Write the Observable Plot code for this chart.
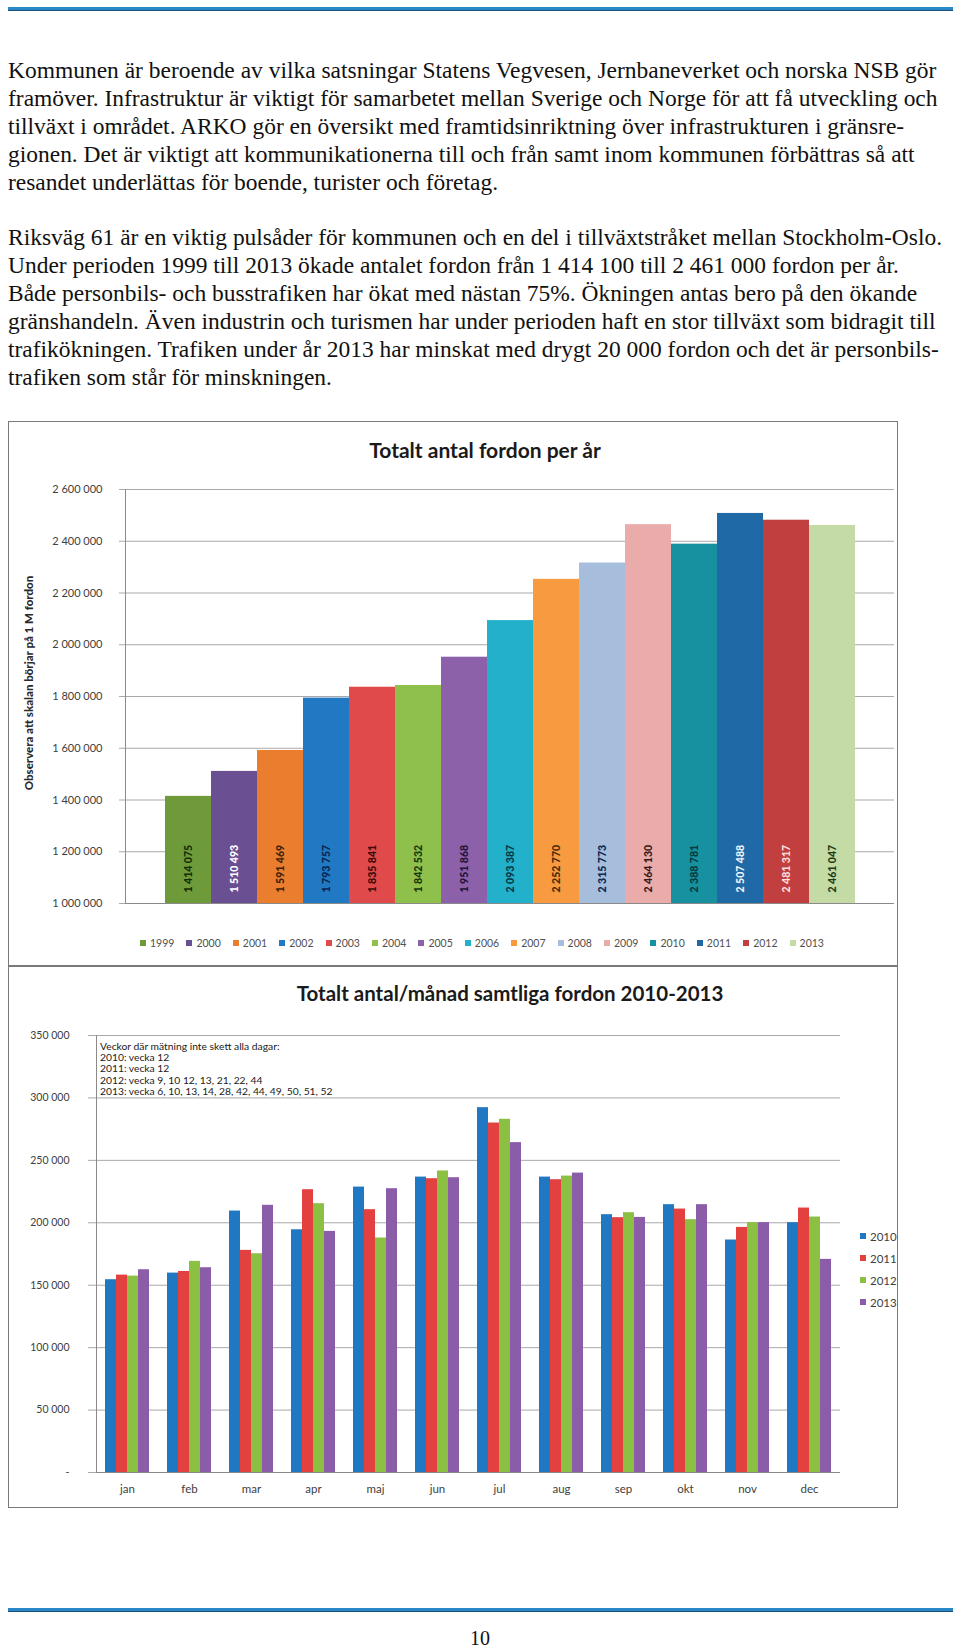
<!DOCTYPE html>
<html><head><meta charset="utf-8">
<script src="https://cdn.jsdelivr.net/npm/d3@7"></script>
<script src="https://cdn.jsdelivr.net/npm/@observablehq/plot@0.6"></script>
<style>
html,body{margin:0;padding:0;background:#fff}
body{width:960px;height:1648px;position:relative;overflow:hidden}
.rule{position:absolute;left:8px;width:945px;height:3px;background:#2a88c8;border-bottom:1px solid #1b4f7c}
#text{position:absolute;left:8px;top:57px;font-family:"Liberation Serif",serif;color:#111;white-space:pre;line-height:27.9px}
.box{position:absolute;left:8px;width:890px;box-sizing:border-box;border:1px solid #7a7a7a;background:#fff}
.plotwrap{position:absolute;left:8px}
.title{position:absolute;font-family:Lato,sans-serif;font-weight:bold;color:#1a1a1a;transform:translate(-50%,-50%);white-space:nowrap}
.leg{position:absolute;font-family:Lato,sans-serif;color:#505050;white-space:nowrap;display:flex;align-items:center}
.sw{display:inline-block;width:6px;height:6px;margin-right:4px}
#note{position:absolute;left:100px;top:1041px;font-family:Lato,sans-serif;font-size:10.3px;line-height:11.2px;color:#1a1a1a;white-space:pre}
#ylab1{position:absolute;left:28px;top:683px;transform:translate(-50%,-50%) rotate(-90deg);font-family:Lato,sans-serif;font-weight:900;font-size:11.5px;color:#2a2a2a;white-space:nowrap}
#pagenum{position:absolute;left:480px;top:1638px;transform:translate(-50%,-50%);font-family:"Liberation Serif",serif;font-size:20px;color:#111}
</style></head>
<body>
<div class="rule" style="top:7px"></div>
<div id="text"></div>
<div class="box" style="top:421px;height:545px"></div>
<div class="box" style="top:966px;height:542px"></div>
<div class="title" id="t1" style="left:485px;top:449px;font-size:21px"></div>
<div class="title" id="t2" style="left:510px;top:993px;font-size:20.5px"></div>
<div id="ylab1"></div>
<div class="plotwrap" id="p1" style="top:421px"></div>
<div class="plotwrap" id="p2" style="top:966px"></div>
<div id="leg1"></div>
<div id="leg2"></div>
<div id="note"></div>
<div class="rule" style="top:1608px"></div>
<div id="pagenum">10</div>
<script>
// ---------- text ----------
const paragraph1 = [
  "Kommunen är beroende av vilka satsningar Statens Vegvesen, Jernbaneverket och norska NSB gör",
  "framöver. Infrastruktur är viktigt för samarbetet mellan Sverige och Norge för att få utveckling och",
  "tillväxt i området. ARKO gör en översikt med framtidsinriktning över infrastrukturen i gränsre-",
  "gionen. Det är viktigt att kommunikationerna till och från samt inom kommunen förbättras så att",
  "resandet underlättas för boende, turister och företag."
];
const paragraph2 = [
  "Riksväg 61 är en viktig pulsåder för kommunen och en del i tillväxtstråket mellan Stockholm-Oslo.",
  "Under perioden 1999 till 2013 ökade antalet fordon från 1 414 100 till 2 461 000 fordon per år.",
  "Både personbils- och busstrafiken har ökat med nästan 75%. Ökningen antas bero på den ökande",
  "gränshandeln. Även industrin och turismen har under perioden haft en stor tillväxt som bidragit till",
  "trafikökningen. Trafiken under år 2013 har minskat med drygt 20 000 fordon och det är personbils-",
  "trafiken som står för minskningen."
];
const title1 = "Totalt antal fordon per år";
const title2 = "Totalt antal/månad samtliga fordon 2010-2013";
const yAxisTitle1 = "Observera att skalan börjar på 1 M fordon";
const noteLines = [
  "Veckor där mätning inte skett alla dagar:",
  "2010: vecka 12",
  "2011: vecka 12",
  "2012: vecka 9, 10 12, 13, 21, 22, 44",
  "2013: vecka 6, 10, 13, 14, 28, 42, 44, 49, 50, 51, 52"
];

// ---------- chart 1 data ----------
const years = ["1999","2000","2001","2002","2003","2004","2005","2006","2007","2008","2009","2010","2011","2012","2013"];
const yearTotals = [1414075,1510493,1591469,1793757,1835841,1842532,1951868,2093387,2252770,2315773,2464130,2388781,2507488,2481317,2461047];
const yearColors = ["#6f9a3a","#6a4f93","#eb7d2f","#2079c2","#e04a4a","#8fc04c","#8c61aa","#22b0ca","#f89b40","#a7bddc","#eaabab","#17919f","#1f6aa6","#c1403f","#c4dba6"];
const labelColors = ["#142e08","#ffffff","#3b2208","#0a2550","#3a0a0a","#1a360a","#241238","#083842","#4a2a08","#0d2650","#3a1818","#083a40","#eef2fa","#fcdede","#1f3a16"];
const yTicks1 = [1000000,1200000,1400000,1600000,1800000,2000000,2200000,2400000,2600000];

// ---------- chart 2 data ----------
const months = ["jan","feb","mar","apr","maj","jun","jul","aug","sep","okt","nov","dec"];
const monthYears = ["2010","2011","2012","2013"];
const v2010 = [154400,159700,209400,194400,228600,236600,292200,236600,206500,214500,186200,200100];
const v2011 = [158100,161000,177900,226500,210500,235300,279900,234500,204100,211000,196300,211800];
const v2012 = [157300,169100,175200,215300,187800,241500,282900,237400,208100,202500,200100,204600];
const v2013 = [162400,164000,214000,193100,227300,236100,264200,239800,204300,214500,200100,170700];
const monthColors = ["#1f78c1","#e3413f","#8cc043","#8b5ca8"];
const yTicks2 = [0,50000,100000,150000,200000,250000,300000,350000];

// ---------- text block ----------
const textEl = document.getElementById("text");
const ctx = document.createElement("canvas").getContext("2d");
ctx.font = '20px "Liberation Serif"';
const w20 = ctx.measureText(paragraph1[0]).width;
const fs = 20 * 929 / w20;
textEl.style.fontSize = fs.toFixed(2) + "px";
textEl.textContent = paragraph1.join("\n") + "\n\n" + paragraph2.join("\n");

document.getElementById("t1").textContent = title1;
document.getElementById("t2").textContent = title2;
document.getElementById("ylab1").textContent = yAxisTitle1;
document.getElementById("note").textContent = noteLines.join("\n");

const fmt = d => d === 0 ? "-" : d3.format(",")(d).replace(/,/g, " ");

// ---------- chart 1 ----------
const data1 = years.map((y, i) => ({year: y, value: yearTotals[i], color: yearColors[i], lab: labelColors[i]}));
const chart1 = Plot.plot({
  width: 890, height: 545,
  marginLeft: 117, marginRight: 4, marginTop: 68, marginBottom: 63,
  style: {fontFamily: "Lato, sans-serif", fontSize: "11px", color: "#404040", background: "transparent"},
  x: {type: "band", domain: years, paddingInner: 0, paddingOuter: 0.75, axis: null},
  y: {domain: [1000000, 2600000]},
  color: {type: "identity"},
  marks: [
    Plot.gridY(yTicks1, {stroke: "#a9a9a9", strokeOpacity: 1}),
    Plot.axisY(yTicks1, {tickSize: 6, tickPadding: 17, tickFormat: fmt, stroke: "#a9a9a9", fill: "#404040", label: null}),
    Plot.barY(data1, {x: "year", y1: 1000000, y2: "value", fill: "color"}),
    Plot.text(data1, {x: "year", y: 1000000, text: d => fmt(d.value), rotate: -90, textAnchor: "start", lineAnchor: "middle", dy: -11, fill: "lab", fontWeight: 900, fontSize: 10.5}),
    Plot.ruleY([1000000], {stroke: "#8a8a8a"}),
    Plot.frame({anchor: "left", stroke: "#8a8a8a"})
  ]
});
document.getElementById("p1").appendChild(chart1);

// legend 1
const leg1 = document.getElementById("leg1");
years.forEach((y, i) => {
  const d = document.createElement("div");
  d.className = "leg";
  d.style.left = (140 + i * 46.4) + "px";
  d.style.top = "937px";
  d.style.fontSize = "10.5px";
  d.style.height = "12px";
  d.innerHTML = `<span class="sw" style="background:${yearColors[i]}"></span>${y}`;
  leg1.appendChild(d);
});

// ---------- chart 2 ----------
const series2 = [v2010, v2011, v2012, v2013];
const data2 = [];
months.forEach((m, i) => monthYears.forEach((y, j) => data2.push({month: m, year: y, value: series2[j][i]})));
const chart2 = Plot.plot({
  width: 890, height: 542,
  marginLeft: 84, marginRight: 55, marginTop: 69, marginBottom: 36,
  style: {fontFamily: "Lato, sans-serif", fontSize: "10.5px", color: "#404040", background: "transparent"},
  fx: {domain: months, padding: 0, label: null},
  x: {domain: monthYears, paddingInner: 0, paddingOuter: 0.78, axis: null},
  y: {domain: [0, 350000]},
  color: {domain: monthYears, range: monthColors},
  marks: [
    Plot.gridY(yTicks2, {stroke: "#a9a9a9", strokeOpacity: 1}),
    Plot.axisY(yTicks2, {tickSize: 8, tickPadding: 19, tickFormat: fmt, stroke: "#a9a9a9", fill: "#404040", label: null}),
    Plot.axisFx({anchor: "bottom", tickSize: 0, tickPadding: 12, fontSize: 11.5, fill: "#404040", label: null}),
    Plot.barY(data2, {fx: "month", x: "year", y: "value", fill: "year"}),
    Plot.ruleY([0], {stroke: "#8a8a8a"}),
    Plot.frame({anchor: "left", facetAnchor: "left", stroke: "#8a8a8a"})
  ]
});
document.getElementById("p2").appendChild(chart2);

// legend 2
const leg2 = document.getElementById("leg2");
monthYears.forEach((y, i) => {
  const d = document.createElement("div");
  d.className = "leg";
  d.style.left = "860px";
  d.style.top = (1229 + i * 22) + "px";
  d.style.fontSize = "11.5px";
  d.style.height = "14px";
  d.style.color = "#404040";
  d.innerHTML = `<span class="sw" style="background:${monthColors[i]}"></span>${y}`;
  leg2.appendChild(d);
});
</script>
</body></html>
